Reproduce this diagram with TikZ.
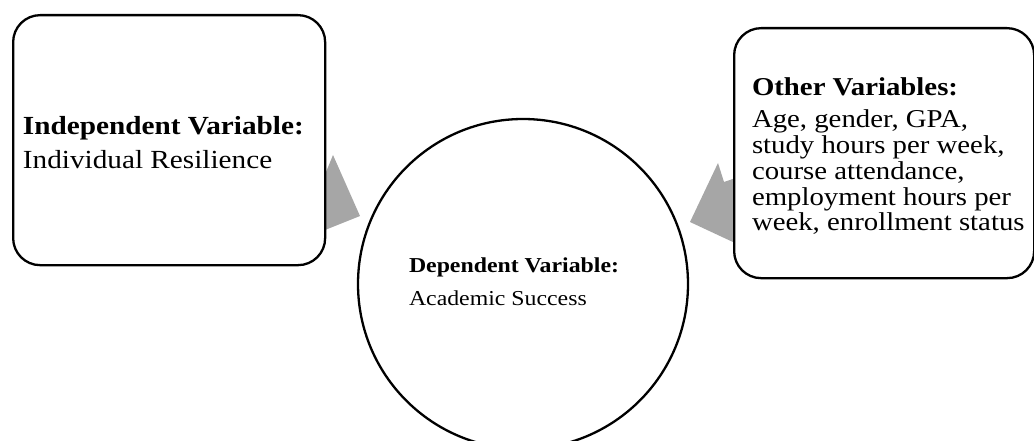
\documentclass[tikz,border=0pt]{standalone}
\usepackage{fontspec}
\usepackage{graphicx}
\setmainfont{Liberation Serif}
\definecolor{arrgray}{RGB}{166,166,166}
\newcommand{\stretchtxt}[1]{\scalebox{1.12}[1]{#1}}
\begin{document}
\begin{tikzpicture}[x=1pt,y=-1pt,
  box/.style={draw=black, line width=2.3pt, rounded corners=27pt, fill=white, inner sep=0pt, anchor=north west},
  bubble/.style={circle, draw=black, line width=2.3pt, fill=white, inner sep=0pt, minimum size=330pt},
  bigtxt/.style={inner sep=0pt, outer sep=0pt, anchor=base west, font=\fontsize{26.1}{30}\selectfont},
  sidetxt/.style={inner sep=0pt, outer sep=0pt, anchor=base west, font=\fontsize{25.7}{26}\selectfont},
  smalltxt/.style={inner sep=0pt, outer sep=0pt, anchor=base west, font=\fontsize{21.25}{26}\selectfont}]
\useasboundingbox (0,0) rectangle (1034,441);
% block arrows (partly hidden behind the boxes)
\fill[arrgray] (300,172) -- (326,172) -- (333,155) -- (360,216) -- (300,240) -- cycle;
\fill[arrgray] (724,182) -- (718,163) -- (690,222) -- (750,250) -- (750,173) -- cycle;
% shapes
\node[box, minimum width=312pt, minimum height=250pt] (ind) at (12,14) {};
\node[box, minimum width=300pt, minimum height=250pt] (oth) at (733,27) {};
\node[bubble] (dep) at (523,284) {};
% texts
\node[bigtxt] (indh) at (23,135) {\stretchtxt{\bfseries Independent Variable:}};
\node[bigtxt] (indb) at (23,168) {\stretchtxt{Individual Resilience}};
\node[smalltxt] (deph) at (409,272) {\stretchtxt{\bfseries Dependent Variable:}};
\node[smalltxt] (depb) at (409,305) {\stretchtxt{Academic Success}};
\node[sidetxt] (othh) at (752,96) {\stretchtxt{\bfseries Other Variables:}};
\node[sidetxt] (oth1) at (752,127.7) {\stretchtxt{Age, gender, GPA,}};
\node[sidetxt] (oth2) at (752,153.5) {\stretchtxt{study hours per week,}};
\node[sidetxt] (oth3) at (752,179.3) {\stretchtxt{course attendance,}};
\node[sidetxt] (oth4) at (752,205.1) {\stretchtxt{employment hours per}};
\node[sidetxt] (oth5) at (752,230.9) {\stretchtxt{week, enrollment status}};
\end{tikzpicture}
\end{document}
